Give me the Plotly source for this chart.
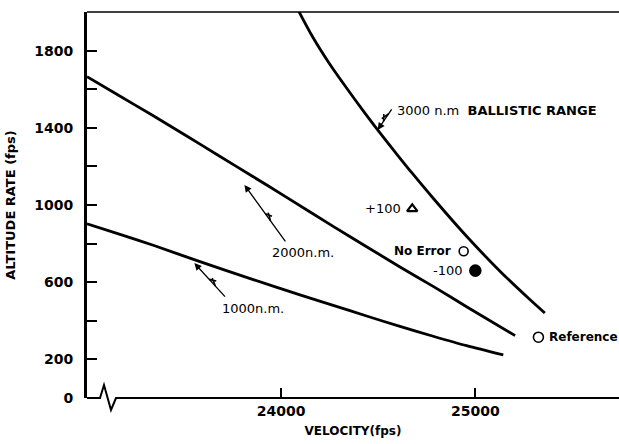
import plotly.graph_objects as go

# Ballistic-range curves: velocity (fps) vs altitude rate (fps)
vel_1000 = [23000, 23170, 23345, 23567, 23860, 24097, 24268, 24440, 24612, 24783, 24955, 25144]
alt_1000 = [903, 848, 790, 712, 612, 534, 480, 425, 371, 320, 271, 223]

vel_2000 = [23000, 23160, 23335, 23505, 23675, 23850, 24020, 24270, 24440,
            24610, 24785, 24955, 25205]
alt_2000 = [1665, 1570, 1466, 1363, 1258, 1150, 1045, 888, 784,
            680, 577, 473, 323]

vel_3000 = [24090, 24161, 24249, 24337, 24419, 24497, 24595, 24677, 24783,
            24955, 25127, 25281, 25358]
alt_3000 = [2005, 1873, 1732, 1606, 1493, 1389, 1264, 1162, 1035,
            838, 657, 510, 440]

# Trajectory points
pt_labels = ["+100", "No Error", "-100", "Reference"]
pt_vel = [24675, 24940, 25000, 25325]
pt_alt = [980, 760, 660, 315]
pt_symbols = ["triangle-up-open", "circle-open", "circle", "circle-open"]
pt_sizes = [9, 9, 11, 10]

# Axis ticks
y_tickvals = [0, 200, 400, 600, 800, 1000, 1200, 1400, 1600, 1800]
y_ticktext = ["0", "200", "", "600", "", "1000", "", "1400", "", "1800"]
x_tickvals = [24000, 25000]
x_ticktext = ["24000", "25000"]

FONT = "DejaVu Sans"
INK = "black"

fig = go.Figure()

for xs, ys in [(vel_1000, alt_1000), (vel_2000, alt_2000), (vel_3000, alt_3000)]:
    fig.add_trace(go.Scatter(
        x=xs, y=ys, mode="lines",
        line=dict(color=INK, width=2.8, shape="spline", smoothing=0.8),
        hoverinfo="skip", showlegend=False,
    ))

for lab, vx, vy, sym, sz in zip(pt_labels, pt_vel, pt_alt, pt_symbols, pt_sizes):
    lw = 2.2 if sym.startswith("triangle") else 1.6
    fig.add_trace(go.Scatter(
        x=[vx], y=[vy], mode="markers",
        marker=dict(symbol=sym, size=sz, color=INK,
                    line=dict(color=INK, width=lw)),
        name=lab, showlegend=False,
    ))

# Point labels
label_specs = [
    ("+100", pt_vel[0] - 50, pt_alt[0], "right", "normal", 13),
    ("No Error", pt_vel[1] - 55, pt_alt[1], "right", "bold", 12),
    ("-100", pt_vel[2] - 52, pt_alt[2], "right", "normal", 13),
    ("Reference", pt_vel[3] + 45, pt_alt[3], "left", "bold", 12),
]
for txt, ax_, ay_, anchor, weight, fs in label_specs:
    fig.add_annotation(x=ax_, y=ay_, text=txt, showarrow=False,
                       xanchor=anchor, yanchor="middle",
                       font=dict(family=FONT, size=fs, color=INK, weight=weight))

# Curve labels with pointer arrows
curve_labels = [
    ("3000 n.m  <b>BALLISTIC RANGE</b>", 24586, 1492, (24497, 1389), (15, -22)),
    ("2000n.m.", 23942, 756, (23811, 1104), (42, 58)),
    ("1000n.m.", 23684, 466, (23553, 699), (32, 35)),
]
for txt, tx, ty, head, tail in curve_labels:
    fig.add_annotation(x=tx, y=ty, text=txt, showarrow=False,
                       xanchor="left", yanchor="middle",
                       font=dict(family=FONT, size=13, color=INK))
    fig.add_annotation(x=head[0], y=head[1], ax=tail[0], ay=tail[1],
                       text="", showarrow=True, arrowhead=2, arrowsize=1.1,
                       arrowwidth=1.3, arrowcolor=INK)
    # lightning kink on the pointer shaft
    dx, dy = tail[0], -tail[1]
    L = (dx ** 2 + dy ** 2) ** 0.5
    ux, uy = dx / L, dy / L
    nx, ny = -uy, ux
    mx, my = 0.55 * dx, 0.55 * dy
    p1 = (mx - 4 * ux, my - 4 * uy)
    p2 = (mx + 4 * nx + 2 * ux, my + 4 * ny + 2 * uy)
    p3 = (mx + 3 * nx - 3 * ux, my + 3 * ny - 3 * uy)
    p4 = (mx + 5 * ux, my + 5 * uy)
    fig.add_shape(type="path", xref="x", yref="y",
                  xsizemode="pixel", ysizemode="pixel",
                  xanchor=head[0], yanchor=head[1],
                  path=(f"M {p1[0]:.1f},{p1[1]:.1f} L {p2[0]:.1f},{p2[1]:.1f} "
                        f"M {p3[0]:.1f},{p3[1]:.1f} L {p4[0]:.1f},{p4[1]:.1f}"),
                  line=dict(color=INK, width=1.6))

# Bottom axis with a break symbol near the origin
fig.add_shape(type="path", xref="paper", yref="paper",
              xsizemode="pixel", ysizemode="pixel", xanchor=0, yanchor=0,
              path="M 0,0 L 13,0 L 17,13 L 24,-12 L 29,0 L 540,0",
              line=dict(color=INK, width=2))
# Top frame line
fig.add_shape(type="line", xref="paper", yref="paper",
              x0=0, x1=1, y0=1, y1=1, line=dict(color=INK, width=1.5))

fig.update_layout(
    width=619, height=444,
    margin=dict(l=87, r=0, t=12, b=46),
    paper_bgcolor="white", plot_bgcolor="white",
    showlegend=False,
    xaxis=dict(
        range=[23000, 25740], showgrid=False, zeroline=False, showline=False,
        tickvals=x_tickvals, ticktext=x_ticktext,
        ticks="inside", ticklen=10, tickwidth=1.5, tickcolor=INK,
        tickfont=dict(family=FONT, size=14, color=INK, weight="bold"),
        ticklabelstandoff=3,
        title=dict(text="VELOCITY(fps)", standoff=8,
                   font=dict(family=FONT, size=12, color=INK, weight="bold")),
    ),
    yaxis=dict(
        range=[0, 2000], showgrid=False, zeroline=False,
        showline=True, linewidth=3, linecolor=INK,
        tickvals=y_tickvals, ticktext=y_ticktext,
        ticks="inside", ticklen=10, tickwidth=1.5, tickcolor=INK,
        tickfont=dict(family=FONT, size=14, color=INK, weight="bold"),
        ticklabelstandoff=8,
        title=dict(text="ALTITUDE RATE (fps)", standoff=16,
                   font=dict(family=FONT, size=13, color=INK, weight=600)),
    ),
)

fig.write_html("out.html")
